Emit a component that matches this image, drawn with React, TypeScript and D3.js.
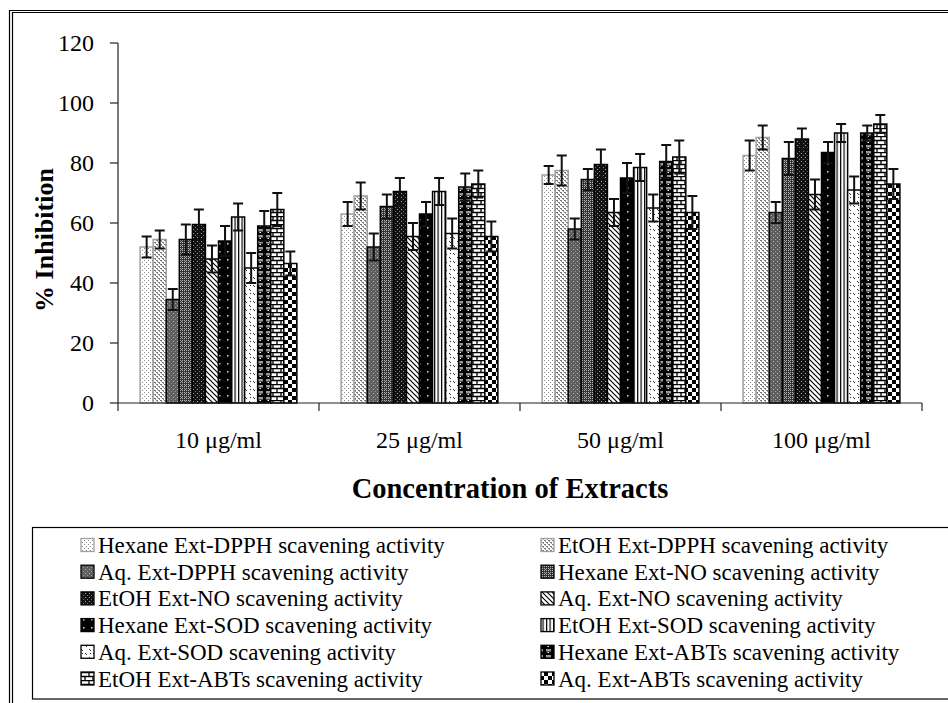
import React from "react";
import * as d3 from "d3";

const categories = ["10 μg/ml", "25 μg/ml", "50 μg/ml", "100 μg/ml"];
const seriesNames = [
  "Hexane Ext-DPPH scavening activity",
  "EtOH Ext-DPPH scavening activity",
  "Aq. Ext-DPPH scavening activity",
  "Hexane Ext-NO scavening activity",
  "EtOH Ext-NO scavening activity",
  "Aq. Ext-NO scavening activity",
  "Hexane Ext-SOD scavening activity",
  "EtOH Ext-SOD scavening activity",
  "Aq. Ext-SOD scavening activity",
  "Hexane Ext-ABTs scavening activity",
  "EtOH Ext-ABTs scavening activity",
  "Aq. Ext-ABTs scavening activity",
];
// values per series, one per category
const hexaneDPPH = [52, 63, 76, 82.5];
const etohDPPH = [54.5, 69, 77.5, 88.5];
const aqDPPH = [34.5, 52, 58, 63.5];
const hexaneNO = [54.5, 65.5, 74.5, 81.5];
const etohNO = [59.5, 70.5, 79.5, 88];
const aqNO = [48, 55.5, 63.5, 69.5];
const hexaneSOD = [54, 63, 75, 83.5];
const etohSOD = [62, 70.5, 78.5, 90];
const aqSOD = [45, 56.5, 65, 71];
const hexaneABTs = [59, 72, 80.5, 90];
const etohABTs = [64.5, 73, 82, 93];
const aqABTs = [46.5, 55.5, 63.5, 73];
// error (±) per series
const errHexaneDPPH = [3.5, 4, 3, 5];
const errEtohDPPH = [3, 4.5, 5, 4];
const errAqDPPH = [3.5, 4.5, 3.5, 3.5];
const errHexaneNO = [5, 4, 3.5, 5.5];
const errEtohNO = [5, 4.5, 5, 3.5];
const errAqNO = [4.5, 4.5, 4.5, 5];
const errHexaneSOD = [5, 4, 5, 3.5];
const errEtohSOD = [4.5, 4.5, 4.5, 3];
const errAqSOD = [5, 5, 4.5, 4.5];
const errHexaneABTs = [5, 4.5, 5.5, 2.5];
const errEtohABTs = [5.5, 4.5, 5.5, 3];
const errAqABTs = [4, 5, 5.5, 5];
const yTicks = [0, 20, 40, 60, 80, 100, 120];

const values = [hexaneDPPH, etohDPPH, aqDPPH, hexaneNO, etohNO, aqNO, hexaneSOD, etohSOD, aqSOD, hexaneABTs, etohABTs, aqABTs];
const errors = [errHexaneDPPH, errEtohDPPH, errAqDPPH, errHexaneNO, errEtohNO, errAqNO, errHexaneSOD, errEtohSOD, errAqSOD, errHexaneABTs, errEtohABTs, errAqABTs];

const strokes = ["#a0a0a0", "#a0a0a0", "#000", "#000", "#000", "#000", "#000", "#000", "#000", "#000", "#000", "#000"];

function Patterns() {
  return (
    <defs>
      <pattern id="p0" width="4" height="4" patternUnits="userSpaceOnUse">
        <rect width="4" height="4" fill="#fff" />
        <rect x="0" y="0" width="1" height="1" fill="#888" />
        <rect x="2" y="2" width="1" height="1" fill="#888" />
      </pattern>
      <pattern id="p1" width="4" height="4" patternUnits="userSpaceOnUse">
        <rect width="4" height="4" fill="#fff" />
        <rect x="0" y="0" width="2" height="1" fill="#777" />
        <rect x="2" y="2" width="2" height="1" fill="#777" />
        <rect x="1" y="1" width="1" height="1" fill="#999" />
        <rect x="3" y="3" width="1" height="1" fill="#999" />
      </pattern>
      <pattern id="p2" width="4" height="4" patternUnits="userSpaceOnUse">
        <rect width="4" height="4" fill="#5e5e5e" />
        <rect x="1" y="1" width="1" height="1" fill="#bbb" />
        <rect x="3" y="3" width="1" height="1" fill="#999" />
      </pattern>
      <pattern id="p3" width="4" height="4" patternUnits="userSpaceOnUse">
        <rect width="4" height="4" fill="#333" />
        <rect x="0" y="0" width="1" height="1" fill="#bbb" />
        <rect x="2" y="0" width="1" height="1" fill="#bbb" />
        <rect x="1" y="1" width="1" height="1" fill="#999" />
        <rect x="0" y="2" width="1" height="1" fill="#bbb" />
        <rect x="2" y="2" width="1" height="1" fill="#bbb" />
      </pattern>
      <pattern id="p4" width="4" height="4" patternUnits="userSpaceOnUse">
        <rect width="4" height="4" fill="#111" />
        <rect x="1" y="1" width="1" height="1" fill="#aaa" />
        <rect x="3" y="3" width="1" height="1" fill="#777" />
      </pattern>
      <pattern id="p5" width="5" height="5" patternUnits="userSpaceOnUse">
        <rect width="5" height="5" fill="#fff" />
        <path d="M-1,-1 L6,6 M-1,4 L1,6 M4,-1 L6,1" stroke="#000" strokeWidth="1.2" />
      </pattern>
      <pattern id="p6" width="8" height="8" patternUnits="userSpaceOnUse">
        <rect width="8" height="8" fill="#000" />
        <rect x="3" y="3" width="1.5" height="1.5" fill="#ddd" />
      </pattern>
      <pattern id="p7" width="3.5" height="4" patternUnits="userSpaceOnUse">
        <rect width="3.5" height="4" fill="#fff" />
        <rect x="0" y="0" width="1.2" height="4" fill="#000" />
      </pattern>
      <pattern id="p8" width="8" height="8" patternUnits="userSpaceOnUse">
        <rect width="8" height="8" fill="#fff" />
        <path d="M1,1 L3,3 M5,5 L7,7 M2,5 L3,6" stroke="#333" strokeWidth="1" />
      </pattern>
      <pattern id="p9" width="8" height="6" patternUnits="userSpaceOnUse">
        <rect width="8" height="6" fill="#000" />
        <rect x="2" y="1" width="5" height="2.5" fill="#999" />
        <rect x="3.5" y="4" width="1.5" height="1" fill="#fff" />
      </pattern>
      <pattern id="p10" width="8" height="8" patternUnits="userSpaceOnUse">
        <rect width="8" height="8" fill="#fff" />
        <path d="M0,0.5 H8 M0,4.5 H8 M1,0 V4.5 M5,4.5 V8" stroke="#000" strokeWidth="1.3" />
      </pattern>
      <pattern id="p11" width="8" height="8" patternUnits="userSpaceOnUse">
        <rect width="8" height="8" fill="#fff" />
        <rect x="0" y="0" width="4" height="4" fill="#000" />
        <rect x="4" y="4" width="4" height="4" fill="#000" />
      </pattern>
    </defs>
  );
}

export default function App() {
  const W = 948;
  const H = 703;
  const left = 118;
  const right = 922;
  const top = 43;
  const bottom = 403;

  const x0 = d3.scaleBand<string>().domain(categories).range([left, right]).paddingInner(0.22).paddingOuter(0.11);
  const x1 = d3.scaleBand<number>().domain(d3.range(seriesNames.length)).range([0, x0.bandwidth()]);
  const y = d3.scaleLinear().domain([0, 120]).range([bottom, top]);
  const step = (right - left) / categories.length;
  const catEdges = d3.range(categories.length + 1).map((i) => left + i * step);

  const serif = "'Liberation Serif', 'Times New Roman', serif";

  const legendTop = 545;
  const rowH = 26.7;
  const colX = [81, 541];

  return (
    <svg width={W} height={H} style={{ position: "absolute", left: 0, top: 0, background: "#fff" }} fontFamily={serif}>
      <Patterns />
      <rect x={0} y={0} width={W} height={H} fill="#fff" />
      {/* outer double border */}
      <path d={`M9.5,${H} V10.5 H${W}`} fill="none" stroke="#000" strokeWidth={1.2} />
      <path d={`M12.5,${H} V12.5 H${W}`} fill="none" stroke="#000" strokeWidth={1.2} />

      {/* y axis */}
      <line x1={left} x2={left} y1={top} y2={bottom} stroke="#222" strokeWidth={1.2} />
      {yTicks.map((t) => (
        <g key={t}>
          <line x1={left - 8} x2={left} y1={y(t)} y2={y(t)} stroke="#222" strokeWidth={1.2} />
          <text x={94} y={y(t)} dy="0.35em" textAnchor="end" fontSize={24} fill="#000">
            {t}
          </text>
        </g>
      ))}

      {/* bars */}
      {categories.map((c, ci) => (
        <g key={c}>
          {seriesNames.map((s, si) => {
            const bx = (x0(c) as number) + (x1(si) as number);
            const bw = x1.bandwidth();
            const v = values[si][ci];
            return (
              <rect
                key={s}
                x={bx}
                y={y(v)}
                width={bw}
                height={y(0) - y(v)}
                fill={`url(#p${si})`}
                stroke={strokes[si]}
                strokeWidth={1.5}
              />
            );
          })}
          {seriesNames.map((s, si) => {
            const cx = (x0(c) as number) + (x1(si) as number) + x1.bandwidth() / 2;
            const v = values[si][ci];
            const e = errors[si][ci];
            const hi = y(v + e);
            const lo = y(v - e);
            return (
              <g key={"e" + s} stroke="#111" strokeWidth={2}>
                <line x1={cx} x2={cx} y1={hi} y2={lo} />
                <line x1={cx - 5} x2={cx + 5} y1={hi} y2={hi} />
                <line x1={cx - 5} x2={cx + 5} y1={lo} y2={lo} />
              </g>
            );
          })}
        </g>
      ))}

      {/* x axis */}
      <line x1={left} x2={right} y1={bottom} y2={bottom} stroke="#222" strokeWidth={1.2} />
      {catEdges.map((e, i) => (
        <line key={i} x1={e} x2={e} y1={bottom} y2={bottom + 8} stroke="#222" strokeWidth={1.2} />
      ))}
      {categories.map((c) => (
        <text key={c} x={(x0(c) as number) + x0.bandwidth() / 2} y={448} textAnchor="middle" fontSize={24} fill="#000">
          {c}
        </text>
      ))}

      {/* axis titles */}
      <text x={510} y={498} textAnchor="middle" fontSize={28.5} fontWeight="bold" fill="#000">
        Concentration of Extracts
      </text>
      <text
        transform={`translate(53,240) rotate(-90)`}
        textAnchor="middle"
        fontSize={26}
        fontWeight="bold"
        fill="#000"
      >
        % Inhibition
      </text>

      {/* legend */}
      <rect x={32.5} y={527.5} width={W} height={171.5} fill="#fff" stroke="#000" strokeWidth={1.2} />
      {seriesNames.map((s, si) => {
        const col = si % 2;
        const row = Math.floor(si / 2);
        const cy = legendTop + row * rowH;
        const sx = colX[col];
        return (
          <g key={s}>
            <rect x={sx} y={cy - 6.5} width={13} height={13} fill={`url(#p${si})`} stroke={strokes[si]} strokeWidth={1.3} />
            <text x={sx + 17} y={cy} dy="0.35em" fontSize={23} fill="#000">
              {s}
            </text>
          </g>
        );
      })}
    </svg>
  );
}
